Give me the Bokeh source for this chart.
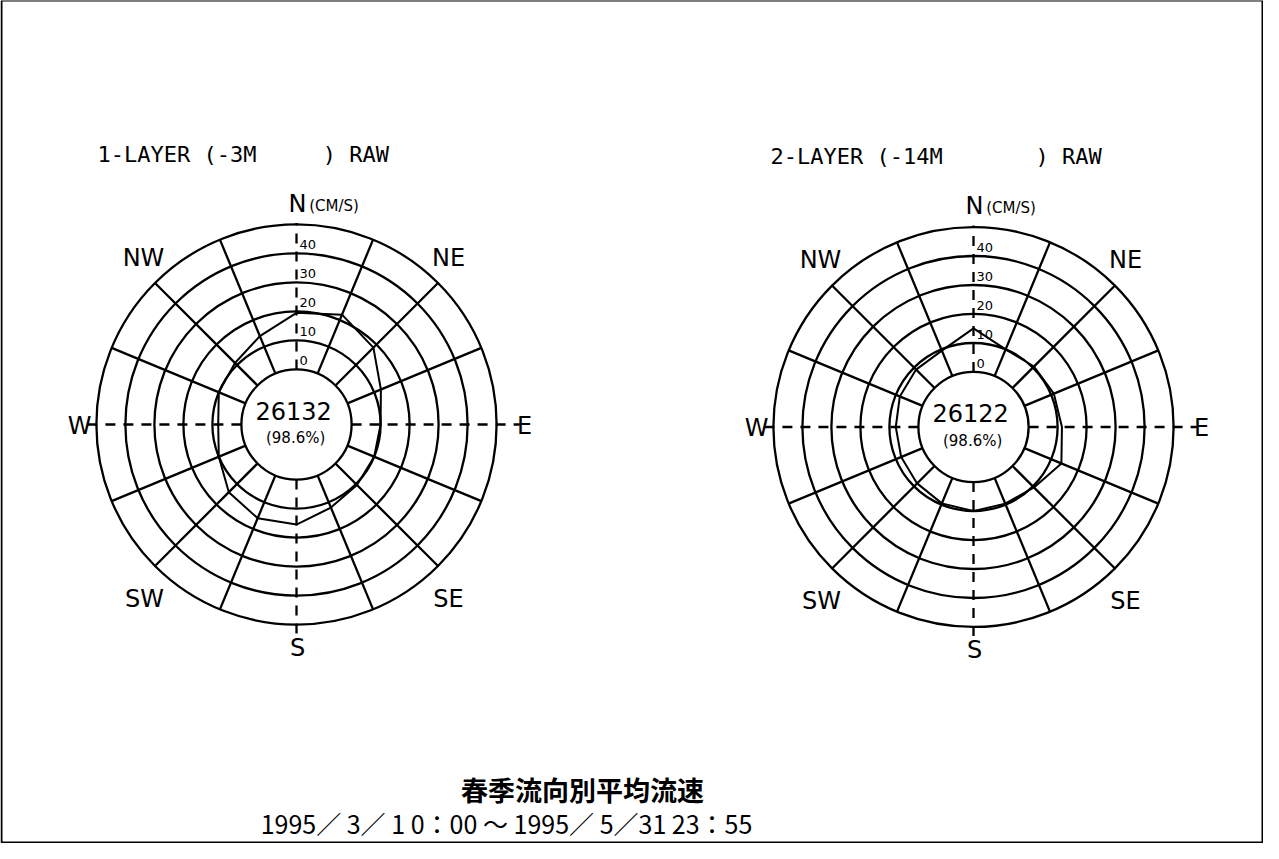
import math
from bokeh.plotting import figure
from bokeh.models import Range1d
from bokeh.embed import file_html
from bokeh.resources import INLINE
from bokeh.core.properties import value

# ---------------- data ----------------
directions = ["N", "NNE", "NE", "ENE", "E", "ESE", "SE", "SSE",
              "S", "SSW", "SW", "WSW", "W", "WNW", "NW", "NNW"]
layer1_speed = [19.5, 22.0, 18.5, 12.5, 10.0, 10.0, 10.5, 12.0,
                15.5, 16.0, 14.0, 10.0, 8.0, 10.0, 11.0, 14.0]
layer2_speed = [15.0, 10.0, 10.5, 11.0, 11.5, 13.8, 10.5, 9.6,
                10.0, 9.5, 8.5, 8.0, 7.8, 8.5, 9.0, 9.5]
ring_values = [0, 10, 20, 30, 40, 50]
ring_labels = ["0", "10", "20", "30", "40"]
compass_labels = ["N", "NE", "E", "SE", "S", "SW", "W", "NW"]
unit_label = "(CM/S)"
NB = "\u00a0"
layer_titles = ["1-LAYER (-3M" + NB * 5 + ") RAW", "2-LAYER (-14M" + NB * 7 + ") RAW"]
counts = ["26132", "26122"]
percents = ["(98.6%)", "(98.6%)"]
main_title = "春季流向別平均流速"
period = "1995／ 3／ 1 0：00 ～ 1995／ 5／31 23：55"

# ---------------- geometry / style ----------------
W, H = 1263, 843
PX = 2.9            # pixels per cm/s
OFFSET = 19.0       # radius of the 0 cm/s circle (in cm/s units)
# compass label offsets from rose centre, in pixels (x right, y down)
label_off_px = [(1, -221), (152, -167), (228, 1), (152, 174),
                (1, 223), (-152, 174), (-217, 1), (-153, -167)]


def pu(X, Y):
    """page pixel -> plot units"""
    return (X - 8) / PX, (851 - Y) / PX


centers = [pu(304, 432), pu(981, 434.5)]
title_pos = [pu(105, 162), pu(778, 164)]

p = figure(width=W, height=H, x_range=Range1d(0, W / PX), y_range=Range1d(0, H / PX),
           output_backend="svg", toolbar_location=None,
           x_axis_type=None, y_axis_type=None, min_border=0)
p.outline_line_color = None
p.background_fill_color = "white"


def polar(cx, cy, r, deg):
    a = math.radians(deg)
    return cx + r * math.sin(a), cy + r * math.cos(a)


LW = 2.3
for i, (cx, cy) in enumerate(centers):
    # rings
    p.circle(x=[cx] * len(ring_values), y=[cy] * len(ring_values),
             radius=[OFFSET + v for v in ring_values],
             fill_color=None, line_color="black", line_width=LW)
    # spokes (solid)
    x0, y0, x1, y1 = [], [], [], []
    for k in range(16):
        if k % 4 == 0:
            continue
        ang = k * 22.5
        a, b = polar(cx, cy, OFFSET, ang)
        c, d = polar(cx, cy, OFFSET + ring_values[-1], ang)
        x0.append(a); y0.append(b); x1.append(c); y1.append(d)
    p.segment(x0=x0, y0=y0, x1=x1, y1=y1, line_color="black", line_width=LW)
    # cardinal axes (dashed)
    ext = {0: 50.5, 90: 58, 180: 54, 270: 53}
    x0, y0, x1, y1 = [], [], [], []
    for ang, e in ext.items():
        a, b = polar(cx, cy, OFFSET, ang)
        c, d = polar(cx, cy, OFFSET + e, ang)
        x0.append(a); y0.append(b); x1.append(c); y1.append(d)
    p.segment(x0=x0, y0=y0, x1=x1, y1=y1, line_color="black", line_width=LW,
              line_dash="10 8")
    # ring labels
    p.text(x=[cx + 1.0] * len(ring_labels),
           y=[cy + OFFSET + v + 1.4 for v in ring_values[:len(ring_labels)]],
           text=ring_labels, text_font=value("DejaVu Sans"), text_font_size="13px",
           text_align="left", text_baseline="bottom", text_color="black")
    # compass labels
    lx = [cx + ox / PX for ox, oy in label_off_px]
    ly = [cy - oy / PX for ox, oy in label_off_px]
    p.text(x=lx, y=ly, text=compass_labels, text_font=value("DejaVu Sans"),
           text_font_size="24px", text_align="center", text_baseline="middle",
           text_color="black")
    p.text(x=[cx + 4.4], y=[ly[0] - 0.7], text=[unit_label], text_font=value("DejaVu Sans"),
           text_font_size="15px", text_align="left", text_baseline="middle",
           text_color="black")
    # data polygon
    speeds = layer1_speed if i == 0 else layer2_speed
    px_, py_ = [], []
    for k, v in enumerate(speeds + speeds[:1]):
        a, b = polar(cx, cy, OFFSET + v, (k % 16) * 22.5)
        px_.append(a); py_.append(b)
    p.line(x=px_, y=py_, line_color="black", line_width=2.0)
    # centre texts
    p.text(x=[cx - 1.0], y=[cy + 4.8], text=[counts[i]], text_font=value("DejaVu Sans"),
           text_font_size="24px", text_align="center", text_baseline="middle",
           text_color="black")
    p.text(x=[cx - 0.3], y=[cy - 4.8], text=[percents[i]], text_font=value("DejaVu Sans"),
           text_font_size="15px", text_align="center", text_baseline="middle",
           text_color="black")
    # layer title
    p.text(x=[title_pos[i][0]], y=[title_pos[i][1]], text=[layer_titles[i]],
           text_font=value("DejaVu Sans Mono"), text_font_size="22px",
           text_align="left", text_baseline="middle", text_color="black")

# bottom titles
tx, ty = pu(590, 797)
p.text(x=[tx], y=[ty], text=[main_title], text_font=value("Noto Sans CJK JP"),
       text_font_size="27px", text_font_style="bold", text_align="center",
       text_baseline="middle", text_color="black")
dx, dy = pu(514, 830)
p.text(x=[dx], y=[dy], text=[period], text_font=value("Noto Sans CJK JP"),
       text_font_size="25px", text_align="center", text_baseline="middle",
       text_color="black")

# frame
fl, ft = pu(9, 8)
fr, fb = pu(1270, 850)
p.quad(left=[fl], right=[fr], top=[ft], bottom=[fb], fill_color=None,
       line_color="black", line_width=2)

open("out.html", "w").write(file_html(p, INLINE))
